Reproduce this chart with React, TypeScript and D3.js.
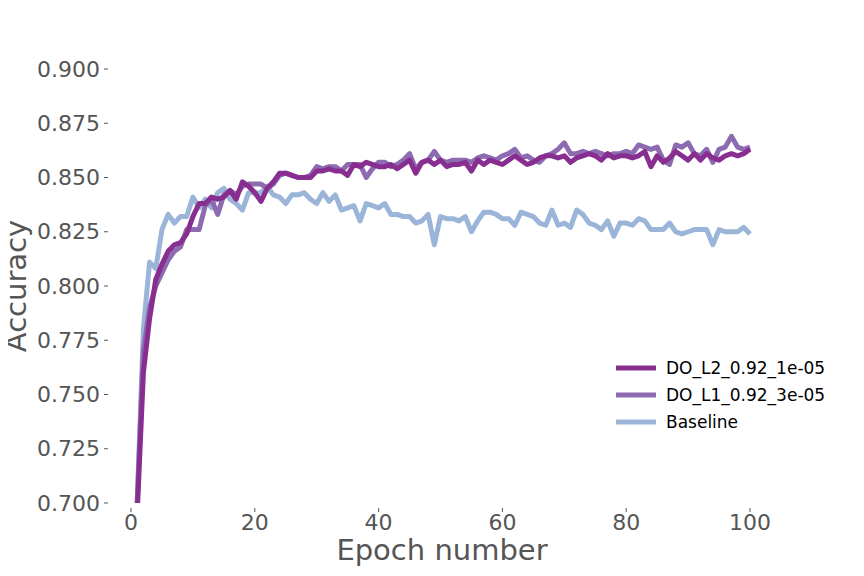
import React from 'react'
import * as d3 from 'd3'

const epochs = d3.range(1, 101)

const l2 = [
  0.695, 0.760, 0.785, 0.803, 0.810, 0.816, 0.819, 0.820, 0.824, 0.832,
  0.838, 0.838, 0.841, 0.840, 0.841, 0.844, 0.840, 0.848, 0.846, 0.843,
  0.839, 0.845, 0.848, 0.852, 0.852, 0.851, 0.850, 0.850, 0.850, 0.853,
  0.853, 0.854, 0.853, 0.853, 0.851, 0.856, 0.855, 0.857, 0.856, 0.855,
  0.855, 0.856, 0.854, 0.856, 0.858, 0.852, 0.857, 0.858, 0.856, 0.858,
  0.855, 0.856, 0.856, 0.857, 0.853, 0.858, 0.856, 0.858, 0.857, 0.856,
  0.858, 0.860, 0.858, 0.856, 0.857, 0.859, 0.860, 0.860, 0.859, 0.860,
  0.857, 0.859, 0.860, 0.861, 0.860, 0.858, 0.861, 0.859, 0.860, 0.860,
  0.859, 0.860, 0.862, 0.855, 0.860, 0.857, 0.859, 0.862, 0.860, 0.858,
  0.861, 0.858, 0.861, 0.859, 0.858, 0.860, 0.861, 0.860, 0.861, 0.863,
]

const l1 = [
  0.700, 0.770, 0.790, 0.800, 0.806, 0.812, 0.816, 0.818, 0.826, 0.826,
  0.826, 0.837, 0.840, 0.833, 0.842, 0.844, 0.842, 0.846, 0.847, 0.847,
  0.847, 0.845, 0.847, 0.851, 0.852, 0.851, 0.850, 0.850, 0.851, 0.855,
  0.854, 0.855, 0.855, 0.853, 0.856, 0.856, 0.856, 0.850, 0.854, 0.857,
  0.857, 0.855, 0.856, 0.858, 0.861, 0.854, 0.857, 0.858, 0.862, 0.858,
  0.857, 0.858, 0.858, 0.858, 0.857, 0.859, 0.860, 0.859, 0.858, 0.860,
  0.861, 0.863, 0.859, 0.860, 0.858, 0.857, 0.860, 0.861, 0.863, 0.866,
  0.861, 0.861, 0.862, 0.861, 0.862, 0.861, 0.860, 0.861, 0.861, 0.862,
  0.861, 0.865, 0.864, 0.863, 0.864, 0.858, 0.856, 0.865, 0.864, 0.866,
  0.861, 0.860, 0.863, 0.857, 0.863, 0.864, 0.869, 0.864, 0.863, 0.864,
]

const baseline = [
  0.700, 0.780, 0.811, 0.808, 0.826, 0.833, 0.829, 0.832, 0.832, 0.841,
  0.836, 0.840, 0.836, 0.843, 0.845, 0.840, 0.838, 0.835, 0.843, 0.843,
  0.843, 0.846, 0.842, 0.841, 0.838, 0.842, 0.842, 0.843, 0.840, 0.838,
  0.843, 0.839, 0.842, 0.835, 0.836, 0.837, 0.830, 0.838, 0.837, 0.836,
  0.838, 0.833, 0.833, 0.832, 0.832, 0.829, 0.830, 0.833, 0.819, 0.832,
  0.831, 0.831, 0.830, 0.832, 0.825, 0.830, 0.834, 0.834, 0.833, 0.831,
  0.831, 0.828, 0.834, 0.833, 0.832, 0.829, 0.828, 0.835, 0.828, 0.829,
  0.827, 0.835, 0.833, 0.829, 0.828, 0.826, 0.830, 0.823, 0.829, 0.829,
  0.828, 0.831, 0.830, 0.826, 0.826, 0.826, 0.829, 0.825, 0.824, 0.825,
  0.826, 0.826, 0.826, 0.819, 0.826, 0.825, 0.825, 0.825, 0.827, 0.824,
]

const series = [
  { name: 'Baseline', values: baseline, color: '#9ab5d8' },
  { name: 'DO_L1_0.92_3e-05', values: l1, color: '#8c6bb1' },
  { name: 'DO_L2_0.92_1e-05', values: l2, color: '#882e91' },
]
const legendOrder = ['DO_L2_0.92_1e-05', 'DO_L1_0.92_3e-05', 'Baseline']
const yTicks = [0.7, 0.725, 0.75, 0.775, 0.8, 0.825, 0.85, 0.875, 0.9]
const xTicks = [0, 20, 40, 60, 80, 100]

const W = 864, H = 576
const FONT = 'DejaVu Sans, sans-serif'

export default function App() {
  const x = d3.scaleLinear().domain([0, 100]).range([131, 750])
  const y = d3.scaleLinear().domain([0.7, 0.9]).range([503, 69])
  const clipTop = 30, clipBottom = 503

  const line = (vals: number[]) =>
    d3.line<number>().x((_, i) => x(epochs[i])).y(d => y(d))(vals) || ''

  return (
    <svg width={W} height={H} style={{ display: 'block', margin: -8 }}>
      <defs>
        <clipPath id="plot">
          <rect x={100} y={clipTop} width={750} height={clipBottom - clipTop} />
        </clipPath>
      </defs>
      <g clipPath="url(#plot)">
        {series.map(s => (
          <path key={s.name} d={line(s.values)} fill="none" stroke={s.color}
            strokeWidth={5} strokeLinejoin="round" />
        ))}
      </g>
      {yTicks.map(t => (
        <g key={t}>
          <line x1={104} x2={108} y1={y(t)} y2={y(t)} stroke="#555" />
          <text x={100} y={y(t)} dy="0.35em" textAnchor="end" fontSize={22}
            fill="#555" fontFamily={FONT}>{d3.format('.3f')(t)}</text>
        </g>
      ))}
      {xTicks.map(t => (
        <g key={t}>
          <line x1={x(t)} x2={x(t)} y1={508} y2={512} stroke="#555" />
          <text x={x(t)} y={530} textAnchor="middle" fontSize={22}
            fill="#555" fontFamily={FONT}>{t}</text>
        </g>
      ))}
      <text x={442} y={560} textAnchor="middle" fontSize={29} fill="#555" fontFamily={FONT}>
        Epoch number
      </text>
      <text transform={`translate(26,${y(0.8)}) rotate(-90)`} textAnchor="middle"
        fontSize={29} fill="#555" fontFamily={FONT}>Accuracy</text>
      {legendOrder.map((n, i) => {
        const s = series.find(d => d.name === n)!
        const ly = 368 + i * 27
        return (
          <g key={n}>
            <line x1={616} x2={656} y1={ly} y2={ly} stroke={s.color} strokeWidth={5} />
            <text x={666} y={ly} dy="0.35em" fontSize={17} fill="#000" fontFamily={FONT}>{n}</text>
          </g>
        )
      })}
    </svg>
  )
}
